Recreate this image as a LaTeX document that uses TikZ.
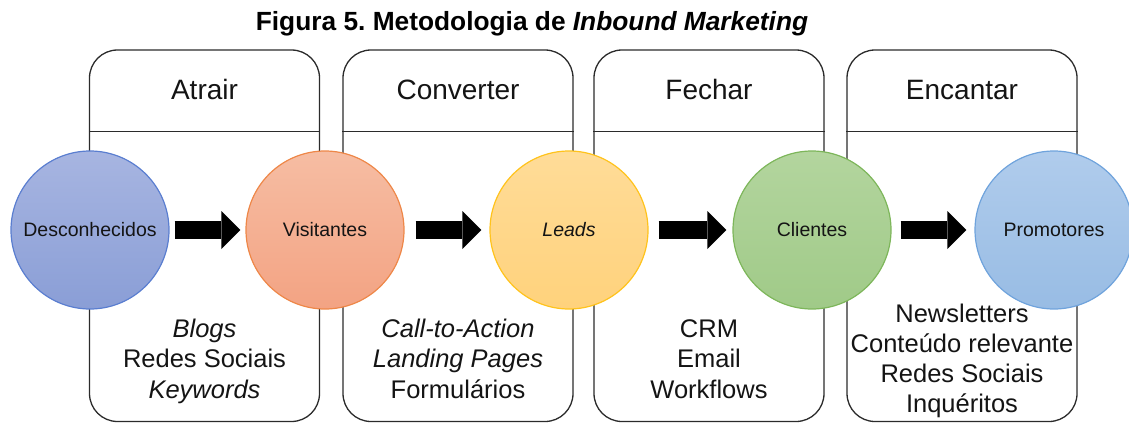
\documentclass[tikz,border=0pt]{standalone}
\usepackage{fontspec}
\setmainfont{Liberation Sans}
\usetikzlibrary{arrows.meta}
\frenchspacing
\definecolor{boxline}{HTML}{2B2B2B}
\definecolor{ink}{HTML}{141414}
\definecolor{unkTop}{HTML}{A7B5E1}
\definecolor{unkBot}{HTML}{8A9ED6}
\definecolor{unkLine}{HTML}{5A7ED0}
\definecolor{visTop}{HTML}{F6BDA3}
\definecolor{visBot}{HTML}{F3A383}
\definecolor{visLine}{HTML}{EE8748}
\definecolor{leaTop}{HTML}{FFDC98}
\definecolor{leaBot}{HTML}{FFD27C}
\definecolor{leaLine}{HTML}{FFC31C}
\definecolor{cliTop}{HTML}{B3D59E}
\definecolor{cliBot}{HTML}{A0CA88}
\definecolor{cliLine}{HTML}{7DB65A}
\definecolor{proTop}{HTML}{B0CCEC}
\definecolor{proBot}{HTML}{98BCE4}
\definecolor{proLine}{HTML}{6FA3DC}
\begin{document}
\begin{tikzpicture}[x=1pt,y=-1pt,
  stagebox/.style={draw=boxline, line width=1.3pt, rounded corners=28pt,
    minimum width=230pt, minimum height=371.5pt, inner sep=0pt},
  divider/.style={draw=boxline, line width=1.3pt},
  header/.style={anchor=base, text=ink, inner sep=0pt,
    font=\fontsize{28}{32}\selectfont},
  tools/.style={anchor=north, align=center, text=ink, inner sep=0pt,
    font=\fontsize{25.5}{30.5}\selectfont},
  phase/.style={circle, minimum size=158pt, inner sep=0pt, line width=1.2pt,
    text=ink, font=\fontsize{19.5}{23}\selectfont},
  flow/.style={draw=black, line width=18pt,
    -{Triangle[length=19pt, width=38pt, line width=0pt]}}
]
\useasboundingbox (0,0) rectangle (1129,423);

% title
\node[anchor=base, inner sep=0pt, font=\fontsize{26.3}{30}\selectfont\bfseries]
  (title) at (532,30) {Figura 5. Metodologia de \textit{Inbound Marketing}};

% stage columns
\node[stagebox] (s1) at (204.5,235.75) {};
\node[stagebox] (s2) at (458,235.75) {};
\node[stagebox] (s3) at (709,235.75) {};
\node[stagebox] (s4) at (962,235.75) {};
\foreach \s in {s1,s2,s3,s4}
  \draw[divider] ([yshift=-82pt]\s.north west) -- ([yshift=-82pt]\s.north east);

% stage names
\node[header] (h1) at (204.5,99) {Atrair};
\node[header] (h2) at (458,99) {Converter};
\node[header] (h3) at (709,99) {Fechar};
\node[header] (h4) at (962,99) {Encantar};

% tools of each stage
\node[tools] (t1) at (204.5,317) {\rule{0pt}{20pt}\textit{Blogs}\\Redes Sociais\\\textit{Keywords}};
\node[tools] (t2) at (458,317) {\rule{0pt}{20pt}\textit{Call-to-Action}\\\textit{Landing Pages}\\Formulários};
\node[tools] (t3) at (709,317) {\rule{0pt}{20pt}CRM\\Email\\Workflows};
\node[tools, font=\fontsize{25.5}{30}\selectfont] (t4) at (962,302)
  {\rule{0pt}{20pt}Newsletters\\Conteúdo relevante\\Redes Sociais\\Inquéritos};

% audience phases
\node[phase, top color=unkTop, bottom color=unkBot, draw=unkLine] (c1) at (90,230) {Desconhecidos};
\node[phase, top color=visTop, bottom color=visBot, draw=visLine] (c2) at (325,230) {Visitantes};
\node[phase, top color=leaTop, bottom color=leaBot, draw=leaLine] (c3) at (569,230) {\textit{Leads}};
\node[phase, top color=cliTop, bottom color=cliBot, draw=cliLine] (c4) at (812,230) {Clientes};
\node[phase, top color=proTop, bottom color=proBot, draw=proLine] (c5) at (1054,230) {Promotores};

% transitions
\draw[flow, shorten <=5pt, shorten >=5pt] (c1) -- (c2);
\draw[flow, shorten <=11pt, shorten >=8pt] (c2) -- (c3);
\draw[flow, shorten <=10pt, shorten >=6pt] (c3) -- (c4);
\draw[flow, shorten <=9pt, shorten >=8pt] (c4) -- (c5);
\end{tikzpicture}
\end{document}
